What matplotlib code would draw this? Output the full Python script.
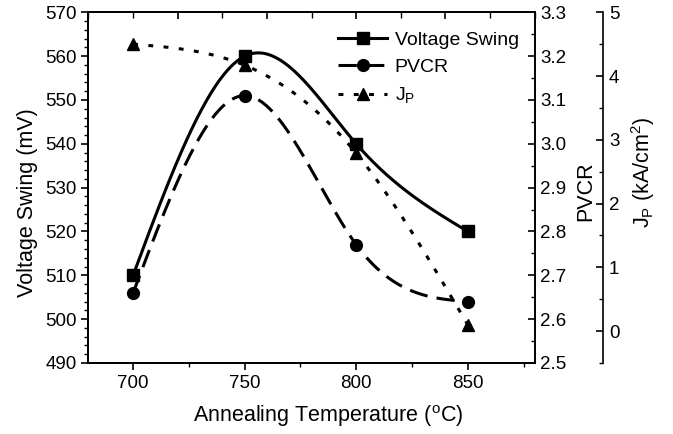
import numpy as np
import matplotlib
matplotlib.use("Agg")
import matplotlib.pyplot as plt
from matplotlib.lines import Line2D
from matplotlib.ticker import MultipleLocator

plt.rcParams['font.family'] = ['Liberation Sans', 'DejaVu Sans']
plt.rcParams['mathtext.fontset'] = 'custom'
plt.rcParams['mathtext.rm'] = 'Liberation Sans'

# data
temp = [700, 750, 800, 850]
swing = [510, 560, 540, 520]          # mV
pvcr = [2.66, 3.11, 2.77, 2.64]
jp = [4.50, 4.17, 2.79, 0.10]         # kA/cm^2


def spline(x, y, n=200):
    # natural cubic spline, only used to draw the smooth connecting line
    x = np.asarray(x, float)
    y = np.asarray(y, float)
    k = len(x)
    h = np.diff(x)
    A = np.zeros((k, k))
    b = np.zeros(k)
    A[0, 0] = A[-1, -1] = 1
    for i in range(1, k - 1):
        A[i, i - 1] = h[i - 1]
        A[i, i] = 2 * (h[i - 1] + h[i])
        A[i, i + 1] = h[i]
        b[i] = 6 * ((y[i + 1] - y[i]) / h[i] - (y[i] - y[i - 1]) / h[i - 1])
    m = np.linalg.solve(A, b)
    xs = np.linspace(x[0], x[-1], n)
    idx = np.clip(np.searchsorted(x, xs) - 1, 0, k - 2)
    t0 = xs - x[idx]
    t1 = x[idx + 1] - xs
    hh = h[idx]
    ys = (m[idx] * t1**3 + m[idx + 1] * t0**3) / (6 * hh) \
        + (y[idx] / hh - m[idx] * hh / 6) * t1 \
        + (y[idx + 1] / hh - m[idx + 1] * hh / 6) * t0
    return xs, ys


fig = plt.figure(figsize=(6.73, 4.34), dpi=100)
ax = fig.add_axes([0.1315, 0.1636, 0.663, 0.808])
ax2 = ax.twinx()
ax3 = ax.twinx()
ax3.spines['right'].set_position(('axes', 1.154))

lw = 2.2
dash_pv = (0, (6, 3))
dot_jp = (0, (1.6, 3.4))

xs, ys = spline(temp, swing)
ax.plot(xs, ys, color='black', lw=lw, ls='-')
ax.plot(temp, swing, 's', color='black', ms=8)

xs, ys = spline(temp, pvcr)
ax2.plot(xs, ys, color='black', lw=lw, ls=dash_pv)
ax2.plot(temp, pvcr, 'o', color='black', ms=8.5)

xs, ys = spline(temp, jp)
ax3.plot(xs, ys, color='black', lw=lw, ls=dot_jp)
ax3.plot(temp, jp, '^', color='black', ms=9)

ax.set_xlim(680, 880)
ax.set_ylim(490, 570)
ax2.set_ylim(2.5, 3.3)
ax3.set_ylim(-0.5, 5)

ax.set_xticks([700, 750, 800, 850])
ax.xaxis.set_minor_locator(MultipleLocator(25))
ax.yaxis.set_major_locator(MultipleLocator(10))
ax.yaxis.set_minor_locator(MultipleLocator(2))
ax2.set_yticks(np.arange(2.5, 3.31, 0.1))
ax2.set_yticklabels([f'{v:.1f}' for v in np.arange(2.5, 3.31, 0.1)])
ax2.yaxis.set_minor_locator(MultipleLocator(0.05))
ax3.yaxis.set_major_locator(MultipleLocator(1))
ax3.yaxis.set_minor_locator(MultipleLocator(0.5))

fs_tick = 13.5
fs_lab = 15.5
ax.tick_params(axis='both', which='major', direction='out', length=5, width=1.2,
               labelsize=fs_tick, top=False)
ax.tick_params(axis='both', which='minor', direction='out', length=3, width=1.0, top=False)
ax2.tick_params(axis='y', which='major', direction='in', length=5, width=1.2,
                labelsize=fs_tick, pad=4)
ax2.tick_params(axis='y', which='minor', direction='in', length=3, width=1.0)
ax3.tick_params(axis='y', which='major', direction='in', length=5, width=1.2,
                labelsize=fs_tick, pad=4)
ax3.tick_params(axis='y', which='minor', direction='in', length=3, width=1.0)

# top axis ticks (inward, every 20 degrees)
top = ax.secondary_xaxis('top')
top.set_xticks([720, 760, 800, 840])
top.xaxis.set_minor_locator(MultipleLocator(20))
top.tick_params(which='major', direction='in', length=5, width=1.2, labeltop=False)
top.tick_params(which='minor', direction='in', length=4, width=1.0)
top.spines['top'].set_linewidth(1.2)

for a in (ax, ax2, ax3):
    for s in a.spines.values():
        s.set_linewidth(1.2)

ax.set_xlabel('Annealing Temperature ($^\\mathregular{o}$C)', fontsize=fs_lab)
ax.xaxis.set_label_coords(0.536, -0.115)
ax.set_ylabel('Voltage Swing (mV)', fontsize=fs_lab)
ax.yaxis.set_label_coords(-0.113, 0.456)
ax2.set_ylabel('PVCR', fontsize=fs_lab)
ax2.yaxis.set_label_coords(1.09, 0.49)
ax3.set_ylabel('J$_\\mathregular{P}$ (kA/cm$^\\mathregular{2}$)', fontsize=fs_lab)
ax3.yaxis.set_label_coords(1.211, 0.544)

handles = [
    Line2D([], [], color='black', lw=lw, ls='-', marker='s', ms=8),
    Line2D([], [], color='black', lw=lw, ls=dash_pv, marker='o', ms=8.5),
    Line2D([], [], color='black', lw=lw, ls=dot_jp, marker='^', ms=9),
]
ax.legend(handles, ['Voltage Swing', 'PVCR', 'J$_\\mathregular{P}$'], loc='upper right',
          frameon=False, fontsize=14, handlelength=2.5, handletextpad=0.4,
          labelspacing=0.5, borderaxespad=0.3, bbox_to_anchor=(0.995, 0.985))

fig.savefig('out.png', dpi=100)
